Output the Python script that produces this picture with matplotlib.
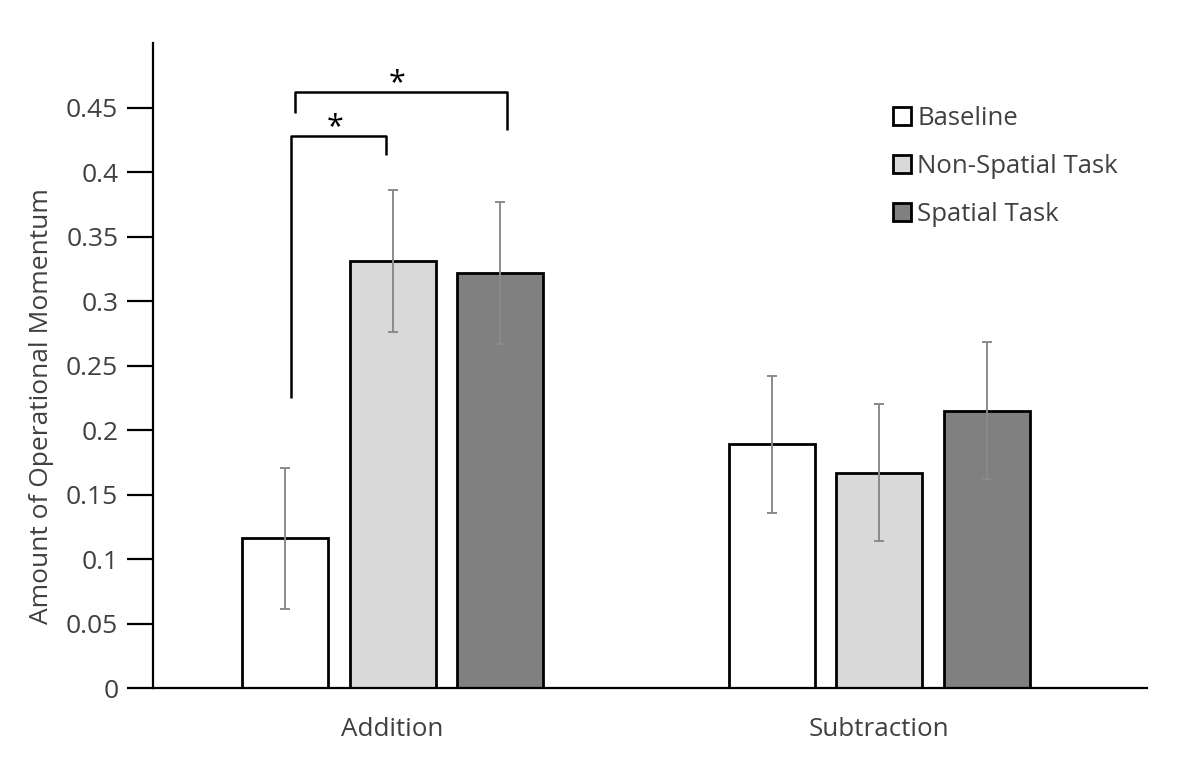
import numpy as np
import matplotlib.pyplot as plt

plt.rcParams['font.family'] = ['Open Sans', 'DejaVu Sans']

# Data
groups = ["Addition", "Subtraction"]
conditions = ["Baseline", "Non-Spatial Task", "Spatial Task"]
baseline = [0.116, 0.189]
non_spatial = [0.331, 0.167]
spatial = [0.322, 0.215]
baseline_err = [0.055, 0.053]
non_spatial_err = [0.055, 0.053]
spatial_err = [0.055, 0.053]

# significance brackets: (x_left, x_right, y_top, y_left_end, y_right_end)
brackets = [(-0.209, -0.013, 0.428, 0.225, 0.413),
            (-0.200, 0.235, 0.462, 0.446, 0.433)]

colors = ["white", "#d9d9d9", "#808080"]
text_col = "#404040"

fig = plt.figure(figsize=(11.81, 7.61), dpi=100)
ax = fig.add_axes([0.1296, 0.0959, 0.8417, 0.8473])

x = np.arange(len(groups))
w = 0.177
step = 0.221
series = [(baseline, baseline_err), (non_spatial, non_spatial_err), (spatial, spatial_err)]
for i, (vals, errs) in enumerate(series):
    ax.bar(x + (i - 1) * step, vals, w, color=colors[i], edgecolor="black",
           linewidth=2.0, label=conditions[i], zorder=2)
    ax.errorbar(x + (i - 1) * step, vals, yerr=errs, fmt="none", ecolor="#8a8a8a",
                elinewidth=1.4, capsize=3.6, capthick=1.4, zorder=3)

for xl, xr, yt, yl, yr in brackets:
    ax.plot([xl, xl, xr, xr], [yl, yt, yt, yr], color="black", lw=1.8,
            solid_capstyle="butt", clip_on=False, zorder=4)
    ax.text((xl + xr) / 2 - 0.008, yt + 0.001, "*", ha="center", va="baseline",
            fontsize=22, color="black")

ax.set_xlim(-0.4923, 1.5509)
ax.set_ylim(0, 0.5)
ax.set_yticks(np.arange(0, 0.46, 0.05))
ax.set_yticklabels(["0", "0.05", "0.1", "0.15", "0.2", "0.25", "0.3", "0.35", "0.4", "0.45"])
ax.set_xticks(x)
ax.set_xticklabels(groups)

for s in ["top", "right"]:
    ax.spines[s].set_visible(False)
for s in ["left", "bottom"]:
    ax.spines[s].set_linewidth(1.6)
    ax.spines[s].set_color("black")

ax.tick_params(axis="y", length=19, width=1.6, pad=6, labelsize=19, labelcolor=text_col)
ax.tick_params(axis="x", length=0, pad=21, labelsize=18.7, labelcolor=text_col)

ax.set_ylabel("Amount of Operational Momentum", fontsize=19, color=text_col, va="center")
ax.yaxis.set_label_coords(-0.112, 0.437)

leg = fig.legend(loc="upper left", bbox_to_anchor=(893 / 1181, 1 - 106 / 761),
                 frameon=False, borderpad=0, borderaxespad=0, fontsize=18.5,
                 handlelength=0.7, handleheight=0.7, handletextpad=0.25,
                 labelspacing=0.9, labelcolor=text_col)

fig.savefig("out.png", dpi=100)
